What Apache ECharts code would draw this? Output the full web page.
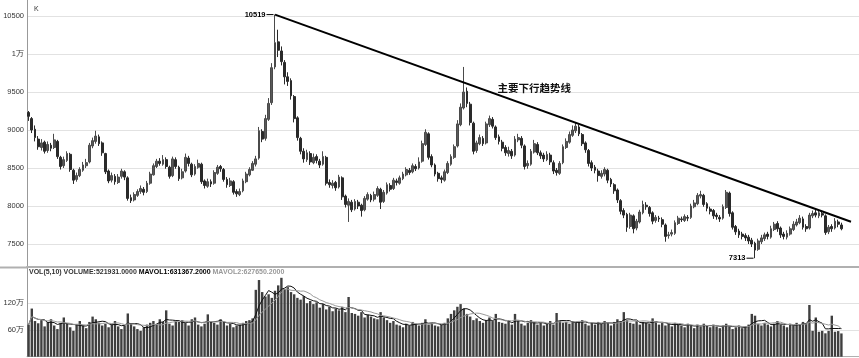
<!DOCTYPE html>
<html><head><meta charset="utf-8">
<script src="https://cdn.jsdelivr.net/npm/echarts@6/dist/echarts.min.js"></script>
<style>html,body{margin:0;padding:0;background:#fff}#c{width:859px;height:358px}</style>
</head><body><div id="c"></div>
<script>
// ---- data ----
const opens = [
9230,9150,9010,8880,8770,8840,8730,8800,8770,8850,
8640,8530,8600,8680,8470,8350,8400,8470,8530,8580,
8790,8850,8910,8830,8690,8460,8340,8390,8310,8390,
8450,8370,8110,8080,8140,8190,8220,8190,8300,8410,
8520,8590,8550,8610,8510,8400,8610,8510,8370,8460,
8630,8550,8420,8510,8550,8330,8260,8320,8300,8430,
8520,8480,8350,8270,8320,8190,8150,8200,8320,8410,
8470,8550,8630,8980,8890,9140,9360,9830,10160,10040,
9890,9700,9650,9440,9160,8890,8720,8610,8690,8570,
8650,8590,8550,8640,8310,8270,8310,8250,8370,8130,
8010,8050,7960,8050,8010,7950,8090,8140,8090,8140,
8220,8060,8170,8270,8230,8330,8300,8360,8410,8470,
8450,8520,8500,8590,8810,8950,8650,8540,8430,8370,
8340,8440,8550,8640,8790,9070,9290,9510,9340,9090,
8730,8820,8890,8830,9070,9140,9040,8910,8840,8770,
8690,8720,8670,8870,8890,8790,8530,8550,8710,8810,
8700,8670,8610,8670,8570,8470,8430,8570,8770,8840,
8930,8990,9040,8940,8830,8730,8570,8510,8460,8390,
8420,8470,8350,8280,8210,8070,7940,7890,7730,7870,
7710,7790,7910,8010,7980,7910,7810,7840,7820,7750,
7610,7630,7640,7770,7830,7810,7850,7850,7990,8030,
8130,8140,8030,7960,7940,7880,7850,7840,7980,8170,
7910,7730,7670,7630,7610,7590,7550,7510,7430,7530,
7570,7630,7590,7690,7770,7710,7630,7590,7630,7690,
7750,7780,7830,7730,7710,7870,7910,7870,7900,7870,
7660,7730,7710,7790,7750];
const closes = [
9180,9000,8900,8780,8830,8720,8810,8760,8870,8650,
8520,8610,8690,8480,8340,8400,8480,8540,8570,8800,
8860,8920,8820,8700,8450,8330,8400,8320,8380,8460,
8380,8100,8070,8150,8190,8230,8180,8300,8420,8530,
8590,8560,8610,8520,8390,8620,8520,8360,8450,8640,
8560,8410,8520,8560,8320,8270,8320,8290,8440,8510,
8490,8350,8280,8330,8180,8160,8190,8330,8420,8480,
8560,8620,8990,8880,9150,9350,9820,10150,10050,9900,
9700,9640,9450,9150,8900,8720,8620,8700,8580,8640,
8600,8540,8650,8300,8280,8300,8240,8380,8120,8020,
8060,7950,8060,8000,7940,8100,8150,8080,8150,8230,
8050,8180,8280,8220,8340,8310,8370,8420,8480,8440,
8530,8490,8580,8820,8970,8640,8540,8420,8360,8350,
8450,8560,8650,8780,9080,9300,9500,9350,9100,8720,
8830,8900,8820,9080,9150,9050,8900,8850,8760,8700,
8730,8660,8880,8900,8800,8520,8560,8720,8820,8700,
8660,8620,8680,8580,8460,8440,8560,8780,8850,8940,
9000,9050,8950,8820,8740,8560,8500,8470,8400,8430,
8480,8340,8290,8200,8080,7930,7880,7720,7880,7700,
7800,7920,8020,7990,7900,7800,7850,7830,7760,7600,
7620,7650,7780,7840,7820,7860,7840,8000,8040,8140,
8150,8020,7970,7930,7870,7860,7830,7990,8180,7900,
7720,7660,7620,7600,7580,7540,7500,7420,7540,7580,
7620,7600,7700,7760,7700,7620,7600,7640,7700,7760,
7790,7840,7720,7700,7880,7900,7880,7910,7880,7650,
7720,7700,7800,7760,7700];
const lows = [
9120,8960,8850,8740,8730,8690,8700,8720,8750,8620,
8480,8500,8580,8450,8290,8320,8380,8450,8500,8560,
8760,8820,8790,8660,8420,8300,8310,8280,8290,8360,
8340,8070,8040,8060,8120,8160,8140,8170,8280,8400,
8500,8530,8530,8490,8360,8380,8490,8330,8350,8440,
8520,8380,8400,8490,8290,8230,8240,8250,8280,8410,
8450,8320,8240,8250,8150,8120,8130,8180,8300,8390,
8460,8520,8610,8840,8860,9120,9330,9800,9960,9850,
9600,9580,9400,9100,8860,8680,8570,8580,8540,8550,
8560,8500,8530,8270,8240,8230,8200,8230,8080,7980,
7790,7920,7940,7960,7860,7930,8070,8050,8060,8120,
7960,8040,8150,8190,8210,8270,8280,8340,8390,8410,
8430,8460,8480,8570,8790,8610,8510,8390,8320,8300,
8320,8420,8530,8620,8770,9050,9270,9300,9060,8680,
8700,8800,8790,8810,9040,9020,8870,8810,8720,8660,
8650,8620,8650,8840,8760,8480,8490,8530,8690,8670,
8620,8580,8590,8540,8420,8400,8410,8550,8750,8820,
8910,8960,8920,8790,8700,8520,8460,8430,8320,8360,
8390,8300,8250,8160,8040,7890,7840,7660,7700,7640,
7680,7770,7890,7950,7860,7760,7780,7790,7720,7530,
7570,7600,7620,7750,7790,7790,7800,7830,7970,8010,
8100,7990,7930,7890,7830,7820,7790,7820,7960,7860,
7690,7620,7580,7560,7540,7500,7460,7313,7410,7500,
7540,7560,7570,7670,7660,7580,7560,7560,7610,7670,
7730,7760,7690,7660,7690,7840,7850,7840,7850,7620,
7630,7660,7690,7720,7680];
const highs = [
9250,9170,9060,8920,8880,8860,8850,8830,8950,8870,
8660,8650,8720,8700,8490,8440,8510,8580,8620,8830,
8900,8990,8940,8850,8700,8480,8440,8420,8420,8490,
8470,8390,8150,8180,8220,8270,8250,8330,8450,8560,
8620,8630,8670,8640,8530,8650,8640,8530,8490,8690,
8660,8570,8550,8610,8570,8350,8360,8350,8470,8540,
8540,8500,8380,8370,8340,8220,8230,8360,8450,8510,
8590,8660,9040,9010,9200,9420,9880,10519,10320,10100,
9920,9760,9680,9460,9180,8910,8760,8740,8720,8690,
8680,8620,8720,8660,8350,8340,8330,8410,8390,8150,
8100,8080,8090,8080,8030,8130,8180,8160,8190,8260,
8240,8210,8310,8300,8370,8360,8400,8450,8510,8500,
8560,8550,8640,8860,9010,8970,8680,8560,8450,8400,
8480,8590,8680,8810,9130,9350,9830,9560,9370,9110,
8860,8940,8920,9110,9190,9170,9060,8940,8870,8800,
8780,8750,8920,8950,8920,8810,8600,8750,8870,8840,
8730,8700,8720,8700,8600,8500,8590,8810,8890,8980,
9060,9100,9070,8960,8850,8750,8600,8540,8490,8470,
8510,8490,8370,8300,8230,8090,7970,7910,7910,7890,
7830,7950,8070,8050,8000,7930,7880,7870,7850,7770,
7660,7690,7810,7870,7860,7890,7880,8030,8080,8170,
8200,8160,8050,7990,7960,7910,7880,8020,8210,8190,
7930,7750,7700,7660,7640,7620,7580,7530,7570,7620,
7650,7660,7740,7790,7800,7730,7660,7680,7730,7800,
7830,7880,7860,7760,7910,7940,7950,7940,7930,7890,
7750,7760,7840,7820,7780];
// volume in 万 (10,000)
const volumes = [
72,108,80,75,82,68,78,84,70,62,
76,88,74,66,58,72,80,70,64,78,
90,84,76,70,74,66,72,80,68,62,
70,97,74,68,62,58,66,72,76,80,
72,84,78,104,74,70,80,78,82,76,
70,84,88,72,68,74,95,80,76,72,
84,78,70,74,66,70,72,76,80,82,
86,150,172,145,135,140,132,148,160,177,
152,156,145,140,132,128,136,120,125,118,
122,110,118,106,112,102,108,104,112,100,
134,98,96,92,100,88,94,90,86,84,
100,88,82,76,80,72,70,66,74,70,
78,74,70,76,84,72,76,70,68,72,
76,86,96,104,112,118,108,96,90,82,
86,80,76,82,88,80,96,78,76,74,
80,72,96,80,74,70,76,82,78,72,
76,70,74,80,72,98,80,76,78,74,
80,76,78,82,74,70,76,72,78,74,
80,76,70,78,84,80,100,82,76,74,
80,72,78,76,74,86,78,72,76,70,
74,68,76,72,70,66,74,70,64,72,
68,74,70,66,72,68,64,70,74,68,
62,66,70,64,68,72,96,92,74,70,
76,72,68,74,80,72,70,66,74,70,
76,72,78,74,116,58,88,56,58,52.45,
58,92,56,57.48,52.1931];
const priceTicks = [7500, 8000, 8500, 9000, 9500, 10000, 10500];
const volTicks = [60, 120];
const peakPoint = [77, 10519];
const lowPoint = [227, 7313];
const trendStart = [77, 10519];
const trendEnd = [257, 7793];
const trendLabelPos = [158, 9553];
const trendLabelText = '主要下行趋势线';
const volHeader = ['VOL(5,10) VOLUME:521931.0000 ', 'MAVOL1:631367.2000 ', 'MAVOL2:627650.2000'];
const slotCount = 260; // category slots (candles plus room for the trend line)

// ---- build ----
const categories = [];
for (let i = 0; i < slotCount; i++) categories.push(String(i));
const candles = opens.map((o, i) => [o, closes[i], lows[i], highs[i]]);
function movingAverage(arr, n) {
  return arr.map((v, i) => {
    const s = Math.max(0, i - n + 1);
    let sum = 0;
    for (let k = s; k <= i; k++) sum += arr[k];
    return +(sum / (i - s + 1)).toFixed(2);
  });
}
const ma5 = movingAverage(volumes, 5);
const ma10 = movingAverage(volumes, 10);

const FONT = 'Liberation Sans';
const chart = echarts.init(document.getElementById('c'), null, {renderer: 'canvas'});
chart.setOption({
  animation: false,
  backgroundColor: '#fff',
  textStyle: {fontFamily: FONT},
  title: [
    {text: 'K', left: 29, top: 1, textStyle: {fontSize: 7, color: '#333', fontWeight: 'normal', fontFamily: FONT}},
    {
      text: '{a|' + volHeader[0] + '}{b|' + volHeader[1] + '}{c|' + volHeader[2] + '}',
      left: 29, top: 269, padding: 0,
      textStyle: {
        fontSize: 7, fontFamily: FONT,
        rich: {
          a: {fontSize: 7, color: '#333', fontFamily: FONT},
          b: {fontSize: 7, color: '#000', fontWeight: 'bold', fontFamily: FONT},
          c: {fontSize: 7, color: '#999', fontFamily: FONT}
        }
      }
    }
  ],
  grid: [
    {left: 27, right: 0, top: 0, height: 267},
    {left: 27, right: 0, top: 268, height: 88.7}
  ],
  xAxis: [
    {type: 'category', data: categories, gridIndex: 0, boundaryGap: true,
      axisLine: {show: true, lineStyle: {color: '#b0b0b0', width: 2}},
      axisTick: {show: false}, axisLabel: {show: false}, splitLine: {show: false}},
    {type: 'category', data: categories, gridIndex: 1, boundaryGap: true,
      axisLine: {show: true, lineStyle: {color: '#b0b0b0', width: 1}},
      axisTick: {show: false}, axisLabel: {show: false}, splitLine: {show: false}}
  ],
  yAxis: [
    {type: 'value', gridIndex: 0, min: 7197, max: 10711, scale: true,
      axisLine: {show: true, lineStyle: {color: '#999'}},
      axisTick: {show: false, customValues: priceTicks},
      axisLabel: {customValues: priceTicks, fontSize: 7.5, color: '#333', margin: 3, fontFamily: FONT,
        formatter: v => (v === 10000 ? '1万' : String(v))},
      splitLine: {show: true, lineStyle: {color: '#e2e2e2', width: 1}}},
    {type: 'value', gridIndex: 1, min: 0, max: 199,
      axisLine: {show: true, lineStyle: {color: '#999'}},
      axisTick: {show: false, customValues: volTicks},
      axisLabel: {customValues: volTicks, fontSize: 7.5, color: '#333', margin: 3, fontFamily: FONT,
        formatter: v => v + '万'},
      splitLine: {show: true, lineStyle: {color: '#e2e2e2', width: 1}}}
  ],
  series: [
    {
      type: 'candlestick', xAxisIndex: 0, yAxisIndex: 0, data: candles,
      barWidth: 2.2,
      itemStyle: {color: '#5a5a5a', color0: '#2a2a2a', borderColor: '#4a4a4a', borderColor0: '#2a2a2a', borderWidth: 1},
      markLine: {
        silent: true, symbol: ['none', 'none'], animation: false,
        lineStyle: {color: '#000', width: 2, type: 'solid'},
        label: {show: false},
        data: [[{coord: trendStart}, {coord: trendEnd}]]
      },
      markPoint: {
        silent: true, animation: false,
        data: [
          {coord: peakPoint, symbol: 'rect', symbolSize: [7, 1], symbolOffset: [-5, 0],
            itemStyle: {color: '#000'},
            label: {show: true, position: 'left', distance: 1, formatter: String(peakPoint[1]),
              fontSize: 7.5, fontWeight: 'bold', color: '#000', fontFamily: FONT}},
          {coord: lowPoint, symbol: 'rect', symbolSize: [7, 1], symbolOffset: [-5, 0],
            itemStyle: {color: '#000'},
            label: {show: true, position: 'left', distance: 1, formatter: String(lowPoint[1]),
              fontSize: 7.5, fontWeight: 'bold', color: '#000', fontFamily: FONT}},
          {coord: trendLabelPos, symbol: 'circle', symbolSize: 0,
            label: {show: true, position: 'inside', formatter: trendLabelText,
              fontSize: 10.5, fontWeight: 'bold', color: '#111', fontFamily: 'Noto Sans CJK SC'}}
        ]
      }
    },
    {
      type: 'bar', xAxisIndex: 1, yAxisIndex: 1, data: volumes, barWidth: 2.4,
      itemStyle: {color: '#3f3f3f'}, silent: true
    },
    {
      type: 'line', xAxisIndex: 1, yAxisIndex: 1, data: ma5, symbol: 'none',
      lineStyle: {color: '#111', width: 1}, silent: true
    },
    {
      type: 'line', xAxisIndex: 1, yAxisIndex: 1, data: ma10, symbol: 'none',
      lineStyle: {color: '#9a9a9a', width: 1}, silent: true
    }
  ],
  graphic: [
    {type: 'line', shape: {x1: 0, y1: 267.5, x2: 27, y2: 267.5}, style: {stroke: '#b0b0b0', lineWidth: 2}, silent: true}
  ]
});
</script>
</body></html>
